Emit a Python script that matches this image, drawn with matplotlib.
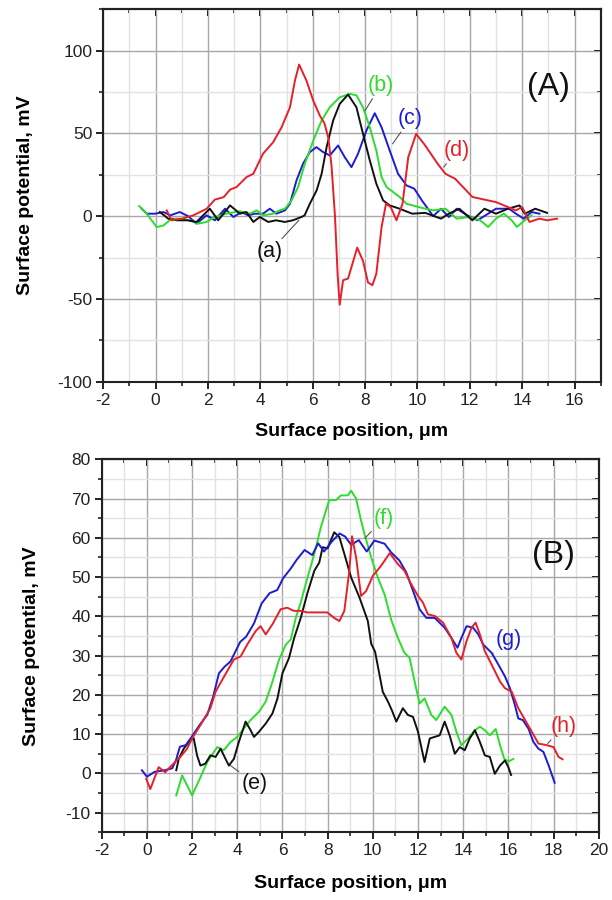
import matplotlib
matplotlib.use("Agg")
import matplotlib.pyplot as plt
from matplotlib.ticker import MultipleLocator

plt.rcParams['font.family'] = ['Liberation Sans', 'DejaVu Sans']
plt.rcParams['axes.unicode_minus'] = False

# ---------------- Panel A data ----------------
a_x = [0.16,0.48,0.8,1.2,1.56,2.07,2.39,2.84,3.22,3.47,3.73,3.98,4.3,4.6,4.93,5.24,5.57,5.69,5.89,6.15,6.34,6.53,6.78,7.03,7.35,7.67,7.92,8.18,8.43,8.69,8.94,9.32,9.8,10.3,10.9,11.2,11.6,12.1,12.56,13.0,13.46,13.9,14.1,14.5,14.95]
a_y = [2.5,-1.5,-2.5,-2.5,-3.5,4.5,-2.5,6.5,1.5,2.5,-3.5,-0.5,-3.5,-2.5,-3.5,-2.5,-0.5,0.5,7.5,15.6,25.6,41.7,57.8,67.8,73.5,65.8,49.8,33.7,19.6,9.5,6.5,4.5,1.5,2.0,-1.5,1.5,4.5,-2.5,4.5,1.5,4.5,6.5,1.5,4.5,2.0]

b_x = [-0.63,-0.34,0.04,0.3,0.61,0.92,1.3,1.63,1.95,2.26,2.7,3.22,3.6,3.86,4.1,4.49,4.74,4.94,5.19,5.44,5.7,6.02,6.34,6.65,7.03,7.42,7.67,7.92,8.18,8.43,8.63,8.82,9.07,9.32,9.58,10.17,10.6,11.07,11.5,11.97,12.4,12.7,13.0,13.3,13.6,13.8,14.1,14.36]
b_y = [6.1,1.5,-6.6,-5.6,-1.5,-1.5,-2.5,-4.5,-3.5,-0.5,1.5,3.0,1.5,3.5,0.5,1.5,3.5,4.5,9.5,17.6,31.7,45.7,57.8,65.8,71.8,73.9,73.0,65.8,53.7,39.7,23.6,17.6,14.6,11.6,7.5,5.0,3.5,4.5,-1.5,-0.5,-2.5,-6.5,-1.5,1.5,-2.5,-6.5,-2.5,0.5]

c_x = [-0.53,-0.34,-0.02,0.3,0.56,0.92,1.24,1.56,1.95,2.26,2.65,2.97,3.28,3.53,3.78,4.1,4.36,4.61,4.94,5.13,5.38,5.63,5.89,6.14,6.4,6.65,6.97,7.22,7.48,7.73,8.05,8.37,8.63,8.94,9.26,9.58,9.88,10.17,10.4,10.6,10.9,11.2,11.5,11.9,12.3,12.7,13.0,13.5,13.76,14.06,14.36,14.66]
c_y = [4.5,1.5,1.5,2.5,0.5,2.5,0.0,-4.5,0.5,-2.5,4.5,-0.5,2.5,0.5,1.5,1.5,4.5,1.5,3.5,7.5,21.6,31.7,38.7,41.7,38.7,36.7,42.7,35.7,29.6,37.7,51.7,62.2,53.7,39.7,25.6,18.6,16.6,9.5,4.5,0.0,4.5,-0.5,4.5,0.5,-2.5,1.5,4.5,4.5,1.5,-1.5,2.5,1.5]

d_x = [0.42,0.61,1.0,1.44,1.95,2.26,2.6,2.84,3.09,3.47,3.73,4.1,4.49,4.81,5.13,5.32,5.48,5.76,6.02,6.27,6.45,6.6,6.72,6.85,6.95,7.03,7.16,7.35,7.55,7.70,7.92,8.11,8.28,8.43,8.63,8.8,8.98,9.2,9.43,9.65,9.95,10.25,10.47,10.77,11.07,11.44,11.74,12.1,12.56,13.0,13.46,13.76,14.0,14.28,14.66,14.96,15.33]
d_y = [3.5,-2.5,-1.5,0.5,4.5,10.0,11.5,16.0,17.6,23.6,25.6,37.7,44.7,53.7,65.8,81.9,91.6,81.9,69.8,60.8,56.0,47.0,30.0,0.0,-35.0,-53.5,-38.7,-37.7,-27.0,-19.0,-27.0,-40.0,-41.7,-34.7,-6.6,7.5,5.5,-2.5,7.5,35.7,49.7,43.7,38.7,31.7,25.6,22.6,17.6,11.6,10.0,8.5,5.5,3.5,5.5,-3.5,-1.5,-2.5,-1.5]

# ---------------- Panel B data ----------------
e_x = [1.3,1.41,1.63,1.92,2.07,2.22,2.37,2.59,2.81,3.04,3.26,3.48,3.63,3.85,4.07,4.37,4.59,4.74,4.96,5.26,5.56,5.78,6.0,6.29,6.52,6.81,7.11,7.41,7.63,7.78,8.0,8.29,8.52,8.74,9.04,9.41,9.78,9.93,10.1,10.3,10.44,10.67,10.85,11.04,11.33,11.55,11.78,12.0,12.29,12.52,12.74,12.96,13.18,13.4,13.63,13.85,14.07,14.29,14.52,14.74,14.96,15.18,15.4,15.63,15.85,16.0,16.12]
e_y = [0.8,3.7,6.3,8.5,9.0,4.6,2.0,2.5,4.6,4.2,6.3,3.7,2.0,3.7,8.0,13.2,11.0,9.3,10.6,12.7,15.3,19.1,25.5,29.4,34.5,39.6,46.0,51.6,53.7,57.6,57.3,61.4,60.2,55.9,49.9,44.8,38.8,33.0,31.0,25.0,20.8,18.3,16.0,13.2,16.6,14.9,14.4,10.6,2.9,8.9,9.3,9.7,13.2,9.7,5.0,6.7,5.9,8.9,11.0,8.0,4.6,4.2,-0.1,2.0,3.3,1.6,-0.4]

f_x = [1.3,1.56,2.0,2.37,2.67,3.11,3.4,3.7,4.0,4.29,4.59,4.96,5.26,5.56,5.85,6.15,6.37,6.59,6.81,7.11,7.41,7.7,8.07,8.37,8.59,8.89,9.04,9.26,9.48,9.63,9.93,10.22,10.52,10.81,11.11,11.4,11.63,11.85,12.07,12.29,12.59,12.81,13.18,13.48,13.7,13.92,14.22,14.52,14.74,14.96,15.18,15.44,15.63,15.82,16.0,16.22]
f_y = [-5.6,-0.5,-5.6,-1.0,2.9,6.7,5.9,8.0,9.3,11.4,13.6,15.7,18.3,23.4,29.0,32.8,34.1,39.6,43.5,49.9,55.9,62.7,69.6,69.6,70.8,70.8,72.0,70.0,64.4,61.0,55.0,49.9,45.6,39.2,34.5,30.7,29.4,23.4,17.8,19.1,14.9,13.6,17.0,14.9,10.6,7.2,8.9,11.0,11.9,11.0,9.7,11.3,7.2,3.7,3.0,3.7]

g_x = [-0.22,0.0,0.34,0.78,1.12,1.29,1.46,1.72,1.98,2.33,2.67,2.93,3.19,3.44,3.7,3.88,4.13,4.39,4.74,5.08,5.43,5.77,6.03,6.37,6.63,6.98,7.32,7.58,7.84,8.18,8.53,8.78,9.04,9.38,9.73,10.07,10.52,10.81,11.18,11.48,11.78,12.07,12.37,12.74,13.18,13.48,13.75,13.92,14.15,14.44,14.67,14.89,15.26,15.56,15.85,16.07,16.29,16.44,16.64,16.89,17.11,17.33,17.55,17.78,18.05]
g_y = [0.8,-0.85,0.4,0.8,1.3,3.4,6.8,7.2,9.3,12.3,14.9,19.5,25.5,27.2,28.5,30.6,33.5,34.8,38.2,43.3,45.9,46.7,49.7,52.2,54.4,56.9,55.6,58.6,56.5,59.0,61.1,60.3,58.2,59.4,56.5,59.3,58.5,56.3,54.2,51.2,46.5,41.8,39.6,39.6,37.1,34.5,32.0,34.5,37.5,37.1,35.4,32.8,30.7,27.7,24.7,21.7,17.4,14.0,13.6,11.4,8.0,6.3,5.5,2.1,-2.4]

h_x = [-0.03,0.15,0.52,0.81,1.11,1.48,1.78,2.0,2.37,2.81,3.04,3.33,3.63,3.85,4.15,4.44,4.81,5.03,5.26,5.56,5.92,6.21,6.5,6.8,7.1,7.54,7.99,8.29,8.52,8.74,8.96,9.08,9.26,9.48,9.7,10.0,10.37,10.75,11.11,11.4,11.7,12.0,12.22,12.44,12.74,13.11,13.48,13.7,13.92,14.15,14.37,14.55,14.74,14.96,15.26,15.63,15.85,16.15,16.44,16.74,17.04,17.33,17.7,18.0,18.22,18.4]
h_y = [-1.4,-4.0,1.6,0.3,2.1,4.2,6.3,8.9,12.3,16.6,20.8,23.8,26.8,29.0,29.8,32.8,36.2,37.5,35.4,38.0,41.8,42.2,41.4,41.4,41.0,41.0,41.0,39.6,38.8,41.4,51.6,60.4,55.0,45.2,46.4,50.3,52.9,56.1,53.3,51.6,48.2,45.2,43.5,40.5,40.1,38.4,34.5,30.7,29.0,33.7,37.1,38.4,35.4,31.1,27.7,23.4,21.7,20.8,16.6,13.6,10.6,7.6,7.2,6.7,4.2,3.6]

RED, GREEN, BLUE, BLACK = '#e5202a', '#2ddc2d', '#1c1cd0', '#111111'

# label texts, positions and leader-line targets
A_labels = ['(a)', '(b)', '(c)', '(d)']
A_label_pos = [(4.35, -21.6), (8.6, 79.0), (9.73, 58.8), (11.52, 39.7)]
A_label_tip = [(5.47, -2.5), (8.0, 63.8), (9.05, 43.7), (11.0, 29.6)]
A_colors = [BLACK, GREEN, BLUE, RED]

B_labels = ['(e)', '(f)', '(g)', '(h)']
B_label_pos = [(4.77, -2.5), (10.5, 65.0), (16.02, 34.0), (18.43, 11.9)]
B_label_tip = [(3.7, 2.0), (9.65, 59.9), (15.33, 30.6), (17.74, 7.6)]
B_colors = [BLACK, GREEN, BLUE, RED]

fig = plt.figure(figsize=(6.12, 9.0), dpi=100)
axA = fig.add_axes([0.1688, 0.5759, 0.8127, 0.4138])
axB = fig.add_axes([0.1662, 0.0752, 0.8121, 0.4145])


def style(ax, xlim, ylim, xmaj, xmin, ymaj, ymin):
    ax.set_xlim(*xlim)
    ax.set_ylim(*ylim)
    ax.xaxis.set_major_locator(MultipleLocator(xmaj))
    ax.xaxis.set_minor_locator(MultipleLocator(xmin))
    ax.yaxis.set_major_locator(MultipleLocator(ymaj))
    ax.yaxis.set_minor_locator(MultipleLocator(ymin))
    ax.grid(which='major', color='#a8a8a8', lw=1.0)
    ax.grid(which='minor', color='#e2e2e2', lw=1.0)
    ax.set_axisbelow(True)
    for s in ax.spines.values():
        s.set_linewidth(1.5)
        s.set_color('#222222')
    ax.tick_params(which='major', direction='out', length=5, width=1.4,
                   labelsize=12.5, colors='#222222', pad=3)
    ax.tick_params(which='minor', direction='out', length=3, width=1.2,
                   colors='#222222')
    top = ax.secondary_xaxis('top')
    top.xaxis.set_major_locator(MultipleLocator(xmaj))
    top.xaxis.set_minor_locator(MultipleLocator(xmin))
    top.tick_params(which='major', direction='in', length=5, width=1.4, labeltop=False)
    top.tick_params(which='minor', direction='in', length=3, width=1.2)
    top.spines['top'].set_linewidth(1.5)
    right = ax.secondary_yaxis('right')
    right.yaxis.set_major_locator(MultipleLocator(ymaj))
    right.yaxis.set_minor_locator(MultipleLocator(ymin))
    right.tick_params(which='major', direction='in', length=5, width=1.4, labelright=False)
    right.tick_params(which='minor', direction='in', length=3, width=1.2)
    right.spines['right'].set_linewidth(1.5)
    ax.set_xlabel('Surface position, μm', fontsize=14, fontweight='bold')
    ax.set_ylabel('Surface potential, mV', fontsize=14, fontweight='bold')


style(axA, (-2, 17), (-100, 125), 2, 1, 50, 25)
style(axB, (-2, 20), (-15, 80), 2, 1, 10, 5)

axA.xaxis.set_label_coords(0.5, -0.112)
axA.yaxis.set_label_coords(-0.14, 0.5)
axB.xaxis.set_label_coords(0.5, -0.115)
axB.yaxis.set_label_coords(-0.124, 0.5)

lw = 1.4
axA.plot(c_x, c_y, color=BLUE, lw=lw)
axA.plot(b_x, b_y, color=GREEN, lw=lw)
axA.plot(a_x, a_y, color=BLACK, lw=lw)
axA.plot(d_x, d_y, color=RED, lw=lw)

axB.plot(f_x, f_y, color=GREEN, lw=lw)
axB.plot(e_x, e_y, color=BLACK, lw=lw)
axB.plot(g_x, g_y, color=BLUE, lw=lw)
axB.plot(h_x, h_y, color=RED, lw=lw)

for ax, labs, pos, tips, cols in [(axA, A_labels, A_label_pos, A_label_tip, A_colors),
                                  (axB, B_labels, B_label_pos, B_label_tip, B_colors)]:
    for lab, p, t, c in zip(labs, pos, tips, cols):
        ax.annotate(lab, xy=t, xytext=p, color=c, fontsize=15.5, ha='center', va='center',
                    arrowprops=dict(arrowstyle='-', color='#555555', lw=0.8,
                                    shrinkA=0, shrinkB=0))

axA.text(15.0, 78.0, '(A)', fontsize=23, ha='center', va='center', color='#111111')
axB.text(18.0, 55.5, '(B)', fontsize=23, ha='center', va='center', color='#111111')

fig.savefig('out.png', dpi=100)
